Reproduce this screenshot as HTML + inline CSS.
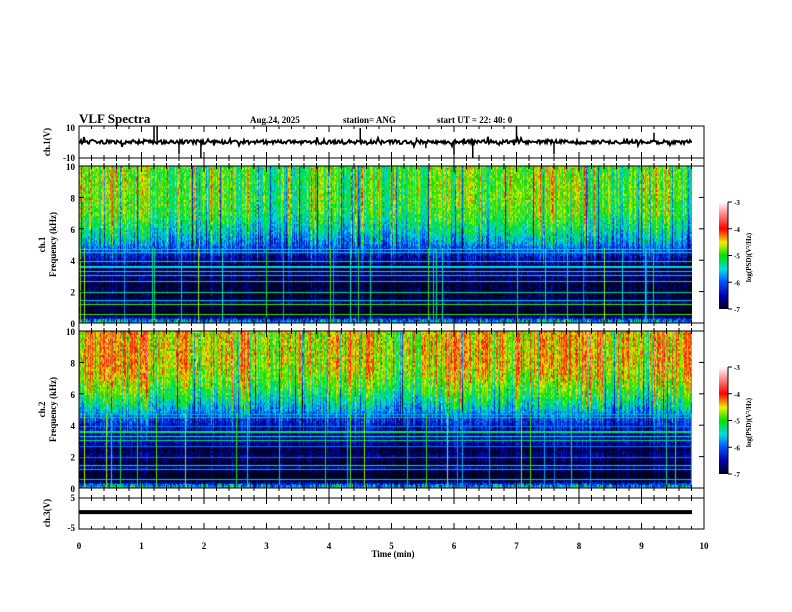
<!DOCTYPE html>
<html><head><meta charset="utf-8"><style>
body{margin:0;background:#fff;width:792px;height:612px;overflow:hidden;position:relative;font-family:"Liberation Serif",serif;font-weight:bold;}
svg{position:absolute;left:0;top:0}
canvas{position:absolute}
</style></head><body>
<canvas id="spec1" width="613" height="157" style="left:79px;top:166px"></canvas>
<canvas id="spec2" width="613" height="157" style="left:79px;top:331px"></canvas>
<svg id="svg" width="792" height="612"></svg>
<script>
// data arrays
const xTicks=[0,1,2,3,4,5,6,7,8,9,10];
const freqTicks=[0,2,4,6,8,10];
const cbTicks=[-3,-4,-5,-6,-7];
// mean log PSD profile vs frequency (kHz)
const profFreq=[0,0.3,0.5,1.0,1.3,1.6,2.0,2.5,3.0,3.5,4.0,4.5,5.0,6.0,7.0,8.0,10.0];
const prof1=[-5.7,-6.3,-7.0,-7.1,-6.6,-7.0,-6.8,-7.0,-6.7,-6.9,-6.6,-6.3,-5.9,-5.4,-5.05,-4.95,-4.95];
const prof2=[-5.7,-6.3,-7.0,-7.1,-6.6,-7.0,-6.7,-6.9,-6.5,-6.6,-6.4,-6.1,-5.7,-5.15,-4.75,-4.55,-4.55];
const lineFreqs=[0.55,1.2,1.45,2.0,2.7,3.05,3.3,3.6,3.95,4.5,4.7];
const ch1Spikes=[[1.2,10],[1.25,10],[1.6,-8],[1.95,-10],[4.5,9],[5.4,3],[5.55,-4],[6.0,-8],[6.3,-10],[7.0,10],[7.6,-8],[9.2,6]];
const ch3Value=0.3;

const svg=document.getElementById('svg');const NS='http://www.w3.org/2000/svg';
function el(tag,attrs,parent){const e=document.createElementNS(NS,tag);for(const k in attrs)e.setAttribute(k,attrs[k]);(parent||svg).appendChild(e);return e;}
function txt(x,y,s,size,anchor,rot){const t=el('text',{x:x,y:y,'font-size':size,'text-anchor':anchor||'start','font-family':'Liberation Serif, serif','font-weight':'bold'});if(rot)t.setAttribute('transform',`rotate(${rot} ${x} ${y})`);t.textContent=s;return t;}
const X0=79,X1=704;const tx=t=>X0+(X1-X0)*t/10;

function h(a,b){let n=(a*374761393+b*668265263)|0;n=(n^(n>>>13))*1274126177|0;return((n^(n>>>16))>>>0)/4294967296;}
const stops=[[0,[0,0,30]],[0.12,[0,0,170]],[0.25,[0,80,255]],[0.37,[0,220,230]],[0.5,[0,225,0]],[0.62,[240,240,0]],[0.75,[255,0,0]],[0.88,[255,130,130]],[1,[255,255,255]]];
function cmap(v){let t=Math.max(0,Math.min(1,(v+7)/4));for(let i=1;i<stops.length;i++){if(t<=stops[i][0]){const a=stops[i-1],b=stops[i];const f=(t-a[0])/(b[0]-a[0]);return a[1].map((c,k)=>Math.round(c+(b[1][k]-c)*f));}}return [255,255,255];}
function interp(f,prof){for(let i=1;i<profFreq.length;i++){if(f<=profFreq[i]){const g=(f-profFreq[i-1])/(profFreq[i]-profFreq[i-1]);return prof[i-1]+(prof[i]-prof[i-1])*g;}}return prof[prof.length-1];}
function drawSpec(id,prof,seed){const c=document.getElementById(id),ctx=c.getContext('2d');const W=c.width,H=c.height;const img=ctx.createImageData(W,H);
 const lineVals=lineFreqs.map((lf,k)=>-5.9+h(k,seed)*1.1);
 for(let x=0;x<W;x++){const r=h(x,seed);const r2=h(x+999,seed);let boost=(r-0.5)*0.9;if(r2>0.9)boost+=0.55;if(r2<0.06)boost-=0.9;
  const slow=(h(Math.floor(x/25),seed+5)-0.5)*0.4;
  const lowLine=h(x,seed+77);
  for(let y=0;y<H;y++){const f=10*(1-y/H);const yy=Math.floor(y/2);
   let w=f>5?1:(f>3.5?0.6:0.35);
   let v=interp(f,prof)+(boost+slow)*w+(h(x*7+seed,yy)-0.5)*0.7;
   if(f<0.3)v+=(h(x,seed+3)>0.7?0.8:0);
   if(f<4.8&&lowLine>0.95)v=Math.max(v,-5.9+(lowLine-0.95)*25);
   for(let k=0;k<lineFreqs.length;k++){if(Math.abs(f-lineFreqs[k])<0.035)v=Math.max(v,lineVals[k]);}
   const col=cmap(v);const i=(y*W+x)*4;img.data[i]=col[0];img.data[i+1]=col[1];img.data[i+2]=col[2];img.data[i+3]=255;}}
 ctx.putImageData(img,0,0);}
drawSpec('spec1',prof1,11);drawSpec('spec2',prof2,29);

// title
txt(79,123,'VLF Spectra',13);
txt(250,123,'Aug.24, 2025',9);
txt(343,123,'station= ANG',9);
txt(437,123,'start  UT =   22: 40: 0',9);

function box(y0,y1,name){const r=el('rect',{x:X0,y:y0,width:X1-X0,height:y1-y0,fill:'none',stroke:'#000','stroke-width':1});
 for(let t=0;t<=10.001;t+=0.2){const x=tx(t);const major=Math.abs(t-Math.round(t))<0.01;const L=major?6:3;el('line',{x1:x,y1:y0,x2:x,y2:y0+L,stroke:'#000'});el('line',{x1:x,y1:y1,x2:x,y2:y1-L,stroke:'#000'});}}
// ch1 panel
box(126,158,'ch1-panel');box(158,166,'gap-1');
txt(75,131,'10',9,'end');txt(75,161,'-10',9,'end');
txt(50,142,'ch.1(V)',9,'middle',-90);
const y1v=v=>142-v*15.5/10;
let d='';for(let i=0;i<=613;i++){const n=(h(i,3)-0.5)*2.6+(h(i,5)>0.9?(h(i,7)-0.5)*5:0);d+=(i?'L':'M')+(X0+i)+','+y1v(n).toFixed(1);}
const p=el('path',{d:d,fill:'none',stroke:'#000','stroke-width':1.8});
for(const s of ch1Spikes){const l=el('line',{x1:tx(s[0]),y1:y1v(0),x2:tx(s[0]),y2:y1v(s[1]),stroke:'#000','stroke-width':1.5});}
// spectrogram frames
function specFrame(y0,y1,name,label,cbTop){box(y0,y1,name);
 for(const f of freqTicks){const y=y1-(y1-y0)*f/10;txt(75,y+4,String(f),9,'end');el('line',{x1:X0,y1:y,x2:X0+5,y2:y,stroke:'#000'});el('line',{x1:X1,y1:y,x2:X1-5,y2:y,stroke:'#000'});}
 txt(45,(y0+y1)/2,label,9,'middle',-90);txt(56,(y0+y1)/2,'Frequency (kHz)',9,'middle',-90);
 const cbH=107;const g=el('defs',{});const gid='cb'+cbTop;const lg=el('linearGradient',{id:gid,x1:0,y1:1,x2:0,y2:0},g);
 for(const s of stops){el('stop',{offset:s[0],'stop-color':`rgb(${s[1].join(',')})`},lg);}
 const cb=el('rect',{x:719,y:cbTop,width:9,height:cbH,fill:`url(#${gid})`});
 el('line',{x1:728,y1:cbTop,x2:728,y2:cbTop+cbH,stroke:'#000'});
 for(const v of cbTicks){const y=cbTop+cbH*(-3-v)/4;el('line',{x1:728,y1:y,x2:732,y2:y,stroke:'#000'});txt(734,y+3,String(v),7);}
 txt(751,cbTop+cbH/2+2,'log(PSD)(V²/Hz)',7,'middle',-90);}
specFrame(166,323,'ch1-spectrogram-frame','ch.1',202);
box(323,331,'gap-2');
specFrame(331,488,'ch2-spectrogram-frame','ch.2',367);
// ch3
box(488,498,'gap-3');box(498,529,'ch3-panel');
txt(75,501,'5',9,'end');txt(75,531,'-5',9,'end');
txt(50,513,'ch.3(V)',9,'middle',-90);
const y3=v=>513-v*15/5;
const l3=el('line',{x1:X0,y1:y3(ch3Value),x2:692,y2:y3(ch3Value),stroke:'#000','stroke-width':4});
for(const t of xTicks){txt(tx(t),549,String(t),9,'middle');}
txt(393,557,'Time (min)',9,'middle');
</script>
</body></html>
